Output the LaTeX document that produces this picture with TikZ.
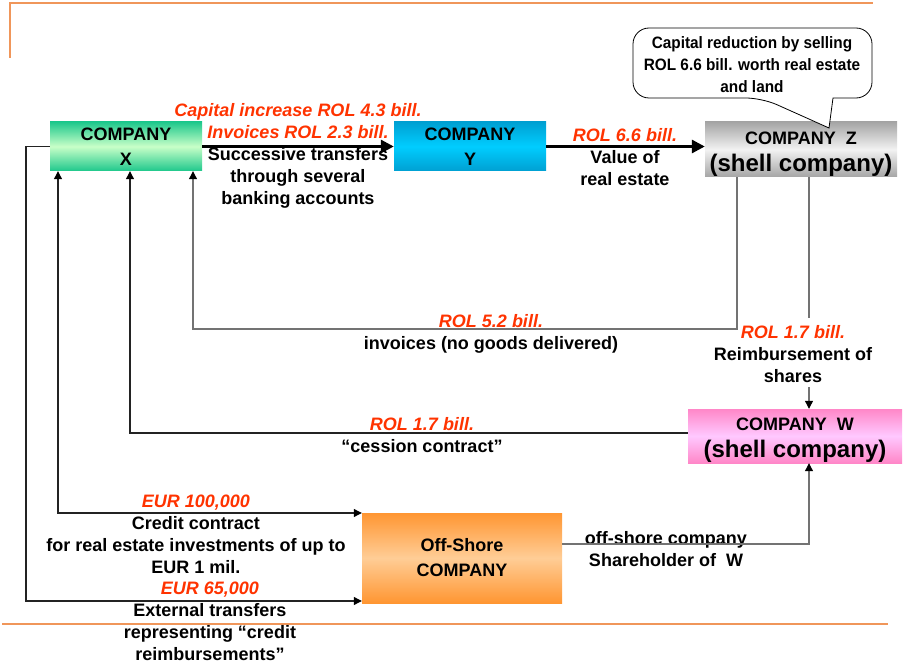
\documentclass[tikz,border=0pt]{standalone}
\usepackage{fontspec}
\setmainfont{Liberation Sans}
\newfontfamily\narrowfont[FakeStretch=0.93]{Liberation Sans}
\usetikzlibrary{arrows.meta}
\definecolor{rlab}{RGB}{255,51,0}
\definecolor{framec}{RGB}{240,150,90}
\definecolor{gline}{RGB}{115,115,115}
\definecolor{dline}{RGB}{35,35,35}
\definecolor{xtop}{RGB}{30,200,140}
\definecolor{xmid}{RGB}{200,255,200}
\definecolor{ytop}{RGB}{0,160,210}
\definecolor{ymid}{RGB}{0,205,255}
\definecolor{ztop}{RGB}{165,165,165}
\definecolor{zmid}{RGB}{242,242,242}
\definecolor{wtop}{RGB}{255,135,200}
\definecolor{wmid}{RGB}{255,200,255}
\definecolor{otop}{RGB}{255,150,50}
\definecolor{omid}{RGB}{255,205,150}
\newcommand\redlab[1]{{\color{rlab}\itshape #1}}
\begin{document}
\begin{tikzpicture}[x=1pt,y=-1pt,
  boxtxt/.style={inner sep=0pt,align=center,font=\fontsize{18}{25}\selectfont\bfseries},
  company/.style={boxtxt,minimum width=#1},
  lbl/.style={inner sep=0pt,align=center,font=\fontsize{18}{22}\selectfont\bfseries},
  thinline/.style={line width=1.1pt,draw=dline},
  greyline/.style={line width=1.1pt,draw=gline},
  tip/.style={-{Triangle[length=8pt,width=8pt,color=black]}},
  twotip/.style={{Triangle[length=8pt,width=8pt,color=black]}-{Triangle[length=8pt,width=8pt,color=black]}},
  bigarrow/.style={line width=3pt,draw=black,-{Triangle[length=13pt,width=13pt]}},
  shade3/.style 2 args={top color=#1,bottom color=#1,middle color=#2}
]
\useasboundingbox (0,0) rectangle (903,666);
% frame lines
\draw[framec,line width=1.2pt] (10,58) -- (10,3) -- (873,3);
\draw[framec,line width=1.2pt] (2,624) -- (888,624);

% boxes
\node[company=152pt,minimum height=49pt,shade3={xtop}{xmid}] (X) at (126,146.5) {COMPANY\\X};
\node[company=152pt,minimum height=49pt,shade3={ytop}{ymid}] (Y) at (470,146.5) {COMPANY\\Y};
\node[company=192pt,minimum height=55pt,shade3={ztop}{zmid}] (Z) at (801,149.5)
  {\rule{0pt}{21.5pt}COMPANY\ \ Z\\[1.5pt]{\fontsize{24}{26}\selectfont(shell company)}};
\node[company=214pt,minimum height=54pt,shade3={wtop}{wmid}] (W) at (795,436)
  {\rule{0pt}{21pt}COMPANY\ \ W\\[2pt]{\fontsize{24}{26}\selectfont(shell company)}};
\node[company=200pt,minimum height=90pt,shade3={otop}{omid}] (O) at (462,558) {Off-Shore\\COMPANY};

% callout
\coordinate (tipc) at (829,128);
\draw[line width=0.8pt,fill=white] (752,28) [rounded corners=16pt] -- (633,28) -- (633,98) -- (762,98)
  [sharp corners] -- (tipc) -- (833,98) [rounded corners=16pt] -- (872,98) -- (872,28) -- cycle;
\node[inner sep=0pt,align=center,font=\narrowfont\bfseries\fontsize{16.5}{22}\selectfont] (call) at (752,65)
  {Capital reduction by selling\\ROL 6.6 bill. worth real estate\\and land};

% label nodes
\node[lbl] (l1) at (298,156) {\redlab{Capital increase ROL 4.3 bill.}\\\redlab{Invoices ROL 2.3 bill.}\\Successive transfers\\through several\\banking accounts};
\node[lbl] (l2) at (625,157) {\redlab{ROL 6.6 bill.}\\Value of\\real estate};
\node[lbl] (l3) at (491,334) {\redlab{ROL 5.2 bill.}\\invoices (no goods delivered)};
\node[lbl,inner sep=2pt] (l4) at (793,354) {\redlab{ROL 1.7 bill.}\\Reimbursement of\\shares};
\node[lbl] (l5) at (422,435) {\redlab{ROL 1.7 bill.}\\“cession contract”};
\node[lbl] (l6) at (196,534.5) {\redlab{EUR 100,000}\\Credit contract\\for real estate investments of up to\\EUR 1 mil.};
\node[lbl] (l7) at (210,621.5) {\redlab{EUR 65,000}\\External transfers\\representing “credit\\reimbursements”};
\node[lbl] (l8) at (666,549) {off-shore company\\Shareholder of\ \ W};

% thick arrows
\draw[bigarrow] (X.east) -- (Y.west);
\draw[bigarrow] (Y.east) -- (Y.east -| Z.west);

% connectors
\coordinate (c1) at (26,601);
\draw[thinline,tip] (X.west) -| (c1) -- (c1 -| O.west);
\coordinate (c2) at (58,513);
\draw[thinline,twotip] (X.south -| c2) -- (c2) -- (c2 -| O.west);
\coordinate (c3) at (130,433);
\draw[thinline,tip] (W.west |- c3) -- (c3) -- (X.south -| c3);
\coordinate (c4) at (193,329);
\coordinate (c5) at (737,329);
\draw[greyline,tip] (Z.south -| c5) -- (c5) -- (c4) -- (X.south -| c4);
\coordinate (c6) at (809,318);
\draw[greyline] (Z.south -| c6) -- (c6);
\coordinate (c6b) at (809,387);
\draw[greyline,tip] (c6b) -- (W.north -| c6b);
\coordinate (c7) at (809,544);
\draw[greyline,tip] (O.east |- c7) -- (c7) -- (W.south -| c7);
\end{tikzpicture}
\end{document}
